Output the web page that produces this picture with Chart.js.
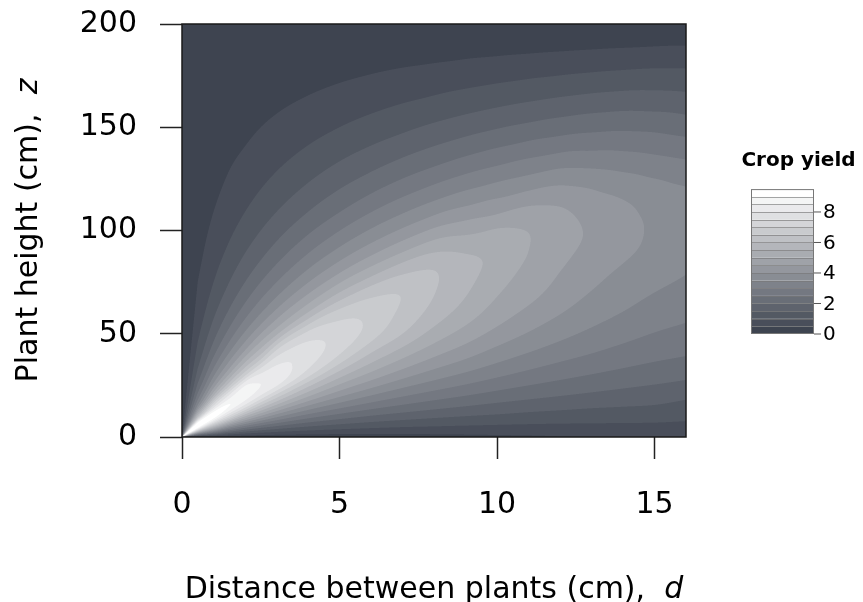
<!DOCTYPE html>
<html><head><meta charset="utf-8">
<script src="https://cdn.jsdelivr.net/npm/chart.js@4.4.1/dist/chart.umd.min.js"></script>
<style>html,body{margin:0;padding:0;background:#fff;}#wrap{width:863px;height:602px;position:relative;}</style>
</head><body><div id="wrap"><canvas id="c" width="863" height="602"></canvas></div>
<script>
// ---- data ----
const distances = [0,0.5,1,1.5,2,2.5,3,4,5,6,7,8,9,10,11,12,13,14,15,16];
const heights   = [0,5,10,15,20,25,30,40,50,60,70,80,90,100,110,120,130,140,150,160,170,180,190,200];
// crop yield at each distance column, listed for the heights above
const yield_d0   = [0,0,0,0,0,0,0,0,0,0,0,0,0,0,0,0,0,0,0,0,0,0,0,0];
const yield_d0_5 = [0,9.5,6.0,3.7,2.7,2.1,1.7,1.2,0.9,0.7,0.56,0.45,0.37,0.3,0.25,0.2,0.16,0.13,0.1,0.08,0.05,0.03,0.02,0];
const yield_d1   = [0.04,5.8,9.35,7.6,5.5,4.2,3.4,2.4,1.8,1.4,1.11,0.9,0.73,0.6,0.49,0.4,0.32,0.26,0.2,0.15,0.11,0.07,0.03,0];
const yield_d1_5 = [0.06,3.8,7.3,9.0,8.1,6.4,5.1,3.6,2.7,2.1,1.67,1.35,1.1,0.9,0.74,0.6,0.49,0.39,0.3,0.23,0.16,0.1,0.05,0];
const yield_d2   = [0.08,2.8,5.5,7.8,8.8,8.45,6.9,4.8,3.6,2.8,2.23,1.8,1.47,1.2,0.98,0.8,0.65,0.51,0.4,0.3,0.21,0.13,0.06,0];
const yield_d2_5 = [0.1,2.25,4.4,6.35,7.95,8.5,8.1,6.0,4.5,3.49,2.79,2.25,1.83,1.5,1.23,1.0,0.81,0.64,0.5,0.38,0.27,0.17,0.08,0];
const yield_d3   = [0.12,1.9,3.65,5.3,6.8,8.05,8.25,7.35,5.4,4.19,3.33,2.7,2.2,1.8,1.47,1.2,0.97,0.77,0.6,0.45,0.32,0.2,0.1,0];
const yield_d4   = [0.16,1.48,2.74,3.95,5.1,6.15,7.15,7.75,7.15,5.55,4.42,3.59,2.93,2.4,1.96,1.6,1.29,1.03,0.8,0.6,0.42,0.27,0.13,0];
const yield_d5   = [0.2,1.26,2.26,3.21,4.1,4.92,5.7,7.0,7.3,6.7,5.5,4.44,3.64,2.99,2.44,2.0,1.62,1.29,1.0,0.75,0.53,0.33,0.16,0];
const yield_d6   = [0.24,1.12,1.95,2.74,3.48,4.18,4.82,5.93,6.75,6.85,6.3,5.25,4.31,3.56,2.93,2.39,1.93,1.54,1.2,0.9,0.64,0.4,0.19,0];
const yield_d7   = [0.28,1.03,1.75,2.42,3.05,3.64,4.2,5.18,6.0,6.35,6.45,5.9,4.95,4.09,3.38,2.78,2.25,1.79,1.39,1.05,0.74,0.47,0.22,0];
const yield_d8   = [0.32,0.98,1.6,2.19,2.74,3.26,3.74,4.6,5.3,5.8,6.02,6.02,5.45,4.6,3.8,3.14,2.55,2.04,1.59,1.2,0.84,0.53,0.25,0];
const yield_d9   = [0.36,0.94,1.49,2.01,2.5,2.96,3.39,4.16,4.79,5.26,5.55,5.68,5.45,4.85,4.12,3.46,2.84,2.28,1.78,1.34,0.95,0.6,0.28,0];
const yield_d10  = [0.4,0.91,1.41,1.86,2.3,2.7,3.09,3.76,4.33,4.77,5.05,5.25,5.34,5.05,4.35,3.72,3.08,2.5,1.96,1.48,1.05,0.66,0.31,0];
const yield_d11  = [0.43,0.89,1.33,1.74,2.14,2.5,2.84,3.45,3.96,4.36,4.7,4.87,5.0,4.98,4.6,3.95,3.3,2.7,2.12,1.61,1.15,0.72,0.34,0];
const yield_d12  = [0.47,0.88,1.28,1.65,2.01,2.34,2.64,3.19,3.65,4.02,4.3,4.5,4.65,4.72,4.55,4.1,3.5,2.85,2.26,1.73,1.24,0.78,0.37,0];
const yield_d13  = [0.5,0.88,1.24,1.57,1.9,2.2,2.48,2.98,3.39,3.72,3.98,4.18,4.35,4.43,4.3,4.0,3.5,2.92,2.36,1.83,1.32,0.84,0.4,0];
const yield_d14  = [0.53,0.88,1.21,1.52,1.81,2.08,2.34,2.79,3.17,3.48,3.72,3.92,4.1,4.16,4.1,3.85,3.42,2.92,2.41,1.89,1.38,0.89,0.43,0];
const yield_d15  = [0.56,0.88,1.18,1.47,1.74,1.98,2.22,2.64,2.98,3.26,3.5,3.7,3.87,3.92,3.87,3.68,3.3,2.85,2.38,1.88,1.4,0.93,0.46,0];
const yield_d16  = [0.55,0.85,1.12,1.35,1.6,1.88,2.1,2.53,2.85,3.12,3.35,3.52,3.64,3.68,3.62,3.53,3.18,2.75,2.28,1.82,1.37,0.93,0.48,0.03];
const yieldColumns = [yield_d0,yield_d0_5,yield_d1,yield_d1_5,yield_d2,yield_d2_5,yield_d3,yield_d4,yield_d5,yield_d6,yield_d7,yield_d8,yield_d9,yield_d10,yield_d11,yield_d12,yield_d13,yield_d14,yield_d15,yield_d16];
const xTickValues = [0,5,10,15];
const yTickValues = [0,50,100,150,200];
const legendTickValues = [0,2,4,6,8];
const levelStep = 0.5, levelCount = 19; // bands 0-0.5 ... 9-9.5
const xTitle = 'Distance between plants (cm),  ', xTitleVar = 'd';
const yTitle = 'Plant height (cm),  ', yTitleVar = 'z';
const legendTitle = 'Crop yield';

// ---- styling ----
const FONT = "'DejaVu Sans', sans-serif";
const DARK = [62,68,80];
const palette = [];
for (let k=0;k<levelCount;k++){const t=k/(levelCount-1);palette.push([0,1,2].map(c=>Math.round(DARK[c]+(255-DARK[c])*t)));}
function bandOf(v){const k=Math.floor(v/levelStep);return Math.max(0,Math.min(levelCount-1,k));}

// ---- smooth interpolation of the read values (cubic along columns, sheared cubic between columns) ----
function midSlope(d0,d1,h0,h1){return (h1*d0+h0*d1)/(h0+h1);}
const colSlopes = yieldColumns.map(vals=>{
  const n=vals.length,m=new Array(n),h=[],del=[];
  for(let k=0;k<n-1;k++){h.push(heights[k+1]-heights[k]);del.push((vals[k+1]-vals[k])/h[k]);}
  m[0]=del[0];m[n-1]=del[n-2];
  for(let k=1;k<n-1;k++)m[k]=midSlope(del[k-1],del[k],h[k-1],h[k]);
  return m;
});
function hermite(y0,y1,m0,m1,h,t){const t2=t*t,t3=t2*t;return (2*t3-3*t2+1)*y0+(t3-2*t2+t)*h*m0+(-2*t3+3*t2)*y1+(t3-t2)*h*m1;}
function findIdx(arr,v){if(v<=arr[0])return 0;if(v>=arr[arr.length-1])return arr.length-2;let lo=0,hi=arr.length-1;while(hi-lo>1){const m=(lo+hi)>>1;if(arr[m]<=v)lo=m;else hi=m;}return lo;}
const ZMAX=heights[heights.length-1];
function colVal(k,z){
  const vals=yieldColumns[k],n=vals.length;
  if(z>=ZMAX)return vals[n-1]+(z-ZMAX)*(vals[n-1]-vals[n-2])/(heights[n-1]-heights[n-2]);
  if(z<=0)return vals[0];
  const j=findIdx(heights,z),h=heights[j+1]-heights[j];
  return hermite(vals[j],vals[j+1],colSlopes[k][j],colSlopes[k][j+1],h,(z-heights[j])/h);
}
const SHEAR_MAX=12;
function fieldValue(d,z){
  if(d<=0)return 0;
  const r=z/d;
  if(d<distances[1])return colVal(1,r*distances[1]);
  const s=Math.min(r,SHEAR_MAX);
  const at=k=>colVal(k,z+s*(distances[k]-d));
  const N=distances.length;
  const i=Math.min(findIdx(distances,d),N-2);
  const y1=at(i),y2=at(i+1);
  const h=distances[i+1]-distances[i],del1=(y2-y1)/h;
  let m1=del1,m2=del1;
  if(i-1>=1){const y0=at(i-1);const h0=distances[i]-distances[i-1];m1=midSlope((y1-y0)/h0,del1,h0,h);}
  if(i+2<=N-1){const y3=at(i+2);const h2=distances[i+2]-distances[i+1];m2=midSlope(del1,(y3-y2)/h2,h,h2);}
  return hermite(y1,y2,m1,m2,h,(d-distances[i])/h);
}

const fieldPlugin = {
  id:'field',
  beforeDatasetsDraw(chart){
    const {ctx, chartArea:a, scales:{x,y}} = chart;
    const x0=Math.round(a.left), x1=Math.round(a.right), y0=Math.round(a.top), y1=Math.round(a.bottom);
    const W=x1-x0, H=y1-y0, S=3;
    const img = ctx.createImageData(W,H);
    const ds=[],zs=[];
    for(let sx=0;sx<W*S;sx++)ds.push(x.getValueForPixel(x0+(sx+0.5)/S));
    for(let sy=0;sy<H*S;sy++)zs.push(y.getValueForPixel(y0+(sy+0.5)/S));
    const n=S*S;
    for(let py=0;py<H;py++){
      for(let px=0;px<W;px++){
        let r=0,g=0,b=0;
        for(let a2=0;a2<S;a2++)for(let b2=0;b2<S;b2++){
          const v=fieldValue(ds[px*S+a2],zs[py*S+b2]);
          const p=palette[bandOf(v)];r+=p[0];g+=p[1];b+=p[2];
        }
        const o=(py*W+px)*4;
        img.data[o]=r/n;img.data[o+1]=g/n;img.data[o+2]=b/n;img.data[o+3]=255;
      }
    }
    ctx.putImageData(img,x0,y0);
  },
  afterDatasetsDraw(chart){
    const {ctx, chartArea:a} = chart;
    ctx.save();ctx.strokeStyle='#1a1a1a';ctx.lineWidth=1.5;
    ctx.strokeRect(a.left,a.top,a.right-a.left,a.bottom-a.top);ctx.restore();
  },
  afterDraw(chart){
    const ctx=chart.ctx, A=chart.chartArea;
    ctx.save();
    ctx.fillStyle='#000';
    ctx.textBaseline='alphabetic';ctx.textAlign='left';
    ctx.font="30px "+FONT; const w1=ctx.measureText(xTitle).width;
    ctx.font="italic 30px "+FONT; const w2=ctx.measureText(xTitleVar).width;
    const cx=(A.left+A.right)/2; const sx=cx-(w1+w2)/2;
    ctx.font="30px "+FONT; ctx.fillText(xTitle,sx,598);
    ctx.font="italic 30px "+FONT; ctx.fillText(xTitleVar,sx+w1,598);
    ctx.save(); ctx.translate(37,(A.top+A.bottom)/2); ctx.rotate(-Math.PI/2);
    ctx.font="30px "+FONT; const v1=ctx.measureText(yTitle).width;
    ctx.font="italic 30px "+FONT; const v2=ctx.measureText(yTitleVar).width;
    ctx.font="30px "+FONT; ctx.fillText(yTitle,-(v1+v2)/2,0);
    ctx.font="italic 30px "+FONT; ctx.fillText(yTitleVar,-(v1+v2)/2+v1,0);
    ctx.restore();
    const L={left:751,right:814,bottom:334,top:189.1};
    const unit=(L.bottom-L.top)/(levelCount*levelStep);
    const py=v=>L.bottom-v*unit;
    for(let k=0;k<levelCount;k++){
      const p=palette[k]; ctx.fillStyle=`rgb(${p[0]},${p[1]},${p[2]})`;
      const ya=py((k+1)*levelStep), yb=py(k*levelStep);
      ctx.fillRect(L.left,ya,L.right-L.left,yb-ya);
    }
    ctx.strokeStyle='rgba(120,120,120,0.65)';ctx.lineWidth=1;
    for(let k=1;k<levelCount;k++){const yy=Math.round(py(k*levelStep))+0.5;ctx.beginPath();ctx.moveTo(L.left,yy);ctx.lineTo(L.right,yy);ctx.stroke();}
    ctx.strokeStyle='#777';ctx.strokeRect(L.left+0.5,L.top+0.5,L.right-L.left-1,L.bottom-L.top-1);
    ctx.fillStyle='#000';ctx.font="20px "+FONT;ctx.textAlign='left';ctx.textBaseline='middle';
    ctx.strokeStyle='#555';
    legendTickValues.forEach(v=>{const yy=py(v);ctx.beginPath();ctx.moveTo(L.right,yy);ctx.lineTo(L.right+7,yy);ctx.stroke();ctx.fillText(String(v),L.right+9,yy+1);});
    ctx.font="bold 20px "+FONT;ctx.textAlign='center';ctx.textBaseline='alphabetic';
    ctx.fillText(legendTitle,798.5,166);
    ctx.restore();
  }
};

const nodes=[];distances.forEach((d,i)=>heights.forEach((z,j)=>nodes.push({x:d,y:z,v:yieldColumns[i][j]})));

new Chart(document.getElementById('c'),{
  type:'scatter',
  data:{datasets:[{label:'Crop yield',data:nodes,pointRadius:0,pointHoverRadius:0,showLine:false}]},
  options:{
    responsive:false,animation:false,events:[],
    layout:{padding:{left:0,top:24,right:177,bottom:0}},
    plugins:{legend:{display:false},tooltip:{enabled:false}},
    scales:{
      x:{type:'linear',min:0,max:16,
        afterBuildTicks:s=>{s.ticks=xTickValues.map(v=>({value:v}));},
        afterFit:s=>{s.height=165;s.paddingLeft=0;s.paddingRight=0;},
        grid:{drawOnChartArea:false,drawTicks:true,tickLength:22,tickColor:'#222',tickWidth:1.5},
        border:{display:false},
        ticks:{font:{family:FONT,size:30},color:'#000',padding:28,maxRotation:0,callback:v=>String(v)}},
      y:{type:'linear',min:0,max:200,
        afterBuildTicks:s=>{s.ticks=yTickValues.map(v=>({value:v}));},
        afterFit:s=>{s.width=182;s.paddingTop=0;s.paddingBottom=0;},
        grid:{drawOnChartArea:false,drawTicks:true,tickLength:22,tickColor:'#222',tickWidth:1.5},
        border:{display:false},
        ticks:{font:{family:FONT,size:30},color:'#000',padding:23,callback:v=>String(v)}}
    }
  },
  plugins:[fieldPlugin]
});
</script></body></html>
